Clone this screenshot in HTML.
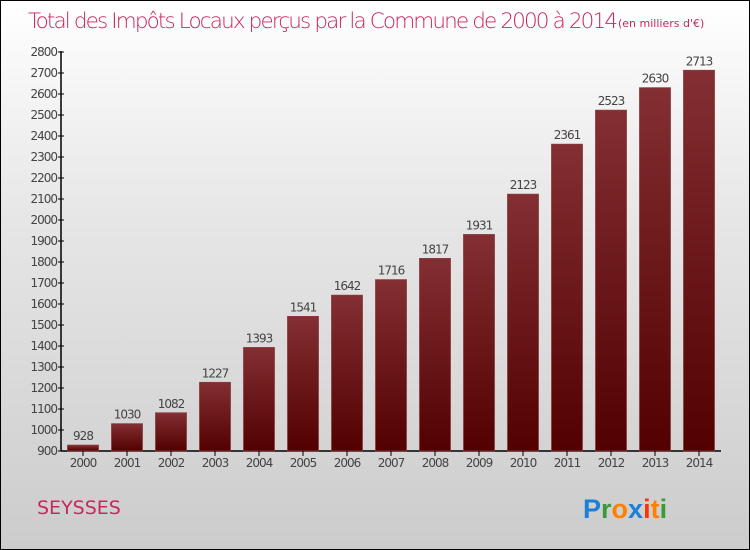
<!DOCTYPE html>
<html><head><meta charset="utf-8"><style>
html,body{margin:0;padding:0}
body{width:750px;height:550px;overflow:hidden;font-family:"DejaVu Sans","Liberation Sans",sans-serif}
#wrap{position:relative;width:748px;height:548px;border:1px solid #000;background:linear-gradient(#fff,#e6e6e6 40%,#ccc)}
</style></head><body>
<div id="wrap">
<svg id="chart" width="748" height="548" style="position:absolute;left:0;top:0">
<defs><linearGradient id="bg" x1="0" y1="0" x2="0" y2="1"><stop offset="0" stop-color="#832f33"/><stop offset="1" stop-color="#520000"/></linearGradient></defs>
<text x="27" y="27" font-size="21.5" fill="#c8285a" font-weight="200" font-family="DejaVu Sans" style="font-weight:200" textLength="590">Total des Impôts Locaux perçus par la Commune de 2000 à 2014</text>
<text x="617" y="26" font-size="11" fill="#c8285a">(en milliers d'€)</text>
<g id="bars"></g>
<text x="36" y="513" font-size="19" fill="#c8285a">SEYSSES</text>
<g font-size="27" font-family="Liberation Sans" font-weight="bold">
<text x="582" y="517"><tspan fill="#1e7fd6">P</tspan><tspan fill="#3a9a3a">r</tspan><tspan fill="#ff8000">o</tspan><tspan fill="#1e7fd6">x</tspan><tspan fill="#ff3300">i</tspan><tspan fill="#ff8000">t</tspan><tspan fill="#3a9a3a">i</tspan></text>
</g>
</svg>
</div>
<script>
const years=["2000","2001","2002","2003","2004","2005","2006","2007","2008","2009","2010","2011","2012","2013","2014"];
const values=[928,1030,1082,1227,1393,1541,1642,1716,1817,1931,2123,2361,2523,2630,2713];
const yTicks=[900,1000,1100,1200,1300,1400,1500,1600,1700,1800,1900,2000,2100,2200,2300,2400,2500,2600,2700,2800];
const ns="http://www.w3.org/2000/svg";
const g=document.getElementById('bars');
const y=v=>450-(v-900)*(399/1900);
const x=i=>82+i*44;
function mk(t,a){const e=document.createElementNS(ns,t);for(const k in a)e.setAttribute(k,a[k]);g.appendChild(e);return e;}
let ax=mk('line',{x1:60,y1:50,x2:60,y2:450,stroke:'#000','stroke-width':1.5});


let bx=mk('line',{x1:60,y1:450,x2:720,y2:450,stroke:'#000','stroke-width':1.5});


yTicks.forEach(v=>{
 let l=mk('line',{x1:57,y1:y(v),x2:63,y2:y(v),stroke:'#000'});
 
 
 let t=mk('text',{x:56,y:y(v)+4,'font-size':12,fill:'#444','text-anchor':'end','letter-spacing':'-1'});
 t.textContent=v;
 
 
});
years.forEach((yr,i)=>{
 const v=values[i];
 let r=mk('rect',{x:x(i)-15.5,y:y(v),width:31,height:450-y(v),fill:'url(#bg)',stroke:'#8a3a3e','stroke-width':0.8});
 
 
 let t=mk('text',{x:x(i),y:y(v)-5,'font-size':12,fill:'#444','text-anchor':'middle','letter-spacing':'-1'});
 t.textContent=v;
 
 
 let tk=mk('line',{x1:x(i),y1:450,x2:x(i),y2:455,stroke:'#000'});
 
 
 let xl=mk('text',{x:x(i),y:466,'font-size':12,fill:'#444','text-anchor':'middle','letter-spacing':'-1'});
 xl.textContent=yr;
 
 
});
</script>
</body></html>
